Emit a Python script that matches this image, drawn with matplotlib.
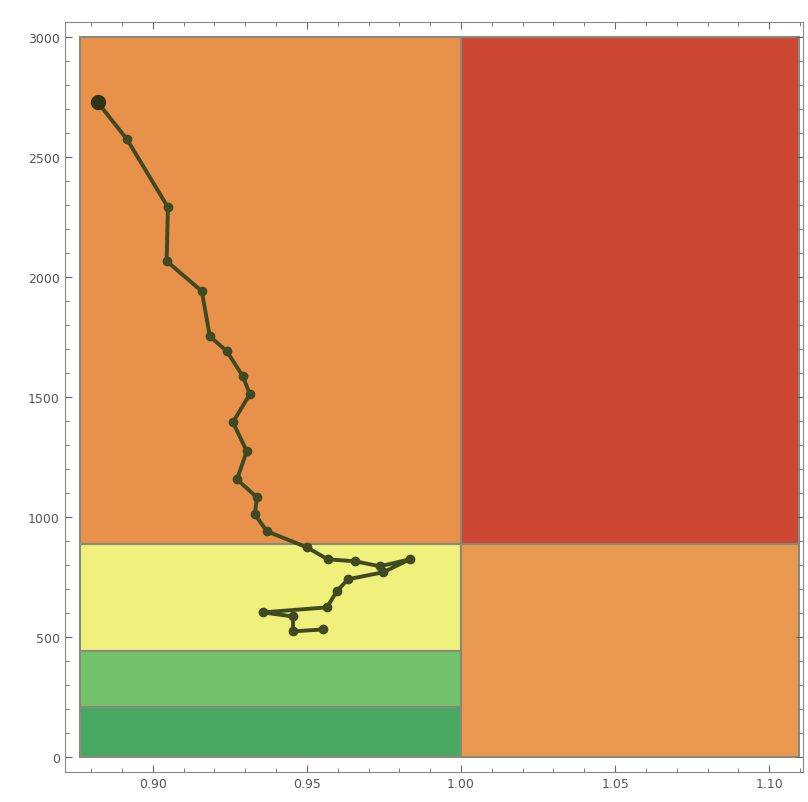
import matplotlib.pyplot as plt
from matplotlib.patches import Rectangle
from matplotlib.ticker import MultipleLocator
import numpy as np

# regions
reg_x0 = [0.8765, 1.000, 0.8765, 0.8765, 0.8765, 1.000]
reg_x1 = [1.000, 1.1095, 1.000, 1.000, 1.000, 1.1095]
reg_y0 = [890, 890, 445, 212, 0, 0]
reg_y1 = [3000, 3000, 890, 445, 212, 890]
reg_col = ["#e8914a", "#cc4632", "#f0f07c", "#72c26c", "#48a862", "#e8984f"]

# trajectory
traj_x = [0.8821, 0.8916, 0.9049, 0.9045, 0.9159, 0.9185, 0.9240, 0.9292,
          0.9315, 0.9260, 0.9305, 0.9273, 0.9338, 0.9331, 0.9370, 0.9500,
          0.9568, 0.9656, 0.9737, 0.9834, 0.9747, 0.9633, 0.9597, 0.9565,
          0.9357, 0.9455, 0.9455, 0.9552]
traj_y = [2729, 2575, 2292, 2067, 1942, 1754, 1692, 1588,
          1513, 1396, 1275, 1158, 1083, 1013, 942, 875,
          825, 817, 796, 825, 771, 742, 692, 625,
          604, 587, 525, 533]

fig = plt.figure(figsize=(8.08, 8.03), dpi=100)
ax = fig.add_axes([0.080, 0.037, 0.914, 0.934])

for x0, x1, y0, y1, c in zip(reg_x0, reg_x1, reg_y0, reg_y1, reg_col):
    ax.add_patch(Rectangle((x0, y0), x1 - x0, y1 - y0, facecolor=c,
                           edgecolor="#8a8a7a", lw=1.5, zorder=1))

ax.plot(traj_x, traj_y, color="#3f4a22", lw=2.8, marker="o", ms=6,
        mfc="#3f4a22", mec="#3f4a22", zorder=3)
ax.plot(traj_x[0], traj_y[0], "o", color="#2f3418", ms=10, zorder=4)

ax.set_xlim(0.8714, 1.111)
ax.set_ylim(-62, 3062)

ax.xaxis.set_major_locator(MultipleLocator(0.05))
ax.xaxis.set_minor_locator(MultipleLocator(0.01))
ax.yaxis.set_major_locator(MultipleLocator(500))
ax.yaxis.set_minor_locator(MultipleLocator(100))
ax.xaxis.set_major_formatter(plt.FuncFormatter(lambda v, p: "{:.2f}".format(v)))
ax.yaxis.set_major_formatter(plt.FuncFormatter(lambda v, p: "{:d}".format(int(round(v)))))

ax.tick_params(which="both", direction="in", top=True, right=True,
               colors="#666666", labelcolor="#555555", labelsize=9)
ax.tick_params(which="major", length=5, width=0.8)
ax.tick_params(which="minor", length=3, width=0.6)
for s in ax.spines.values():
    s.set_color("#888888")
    s.set_linewidth(0.8)

plt.savefig("out.png", dpi=100)
plt.close()
